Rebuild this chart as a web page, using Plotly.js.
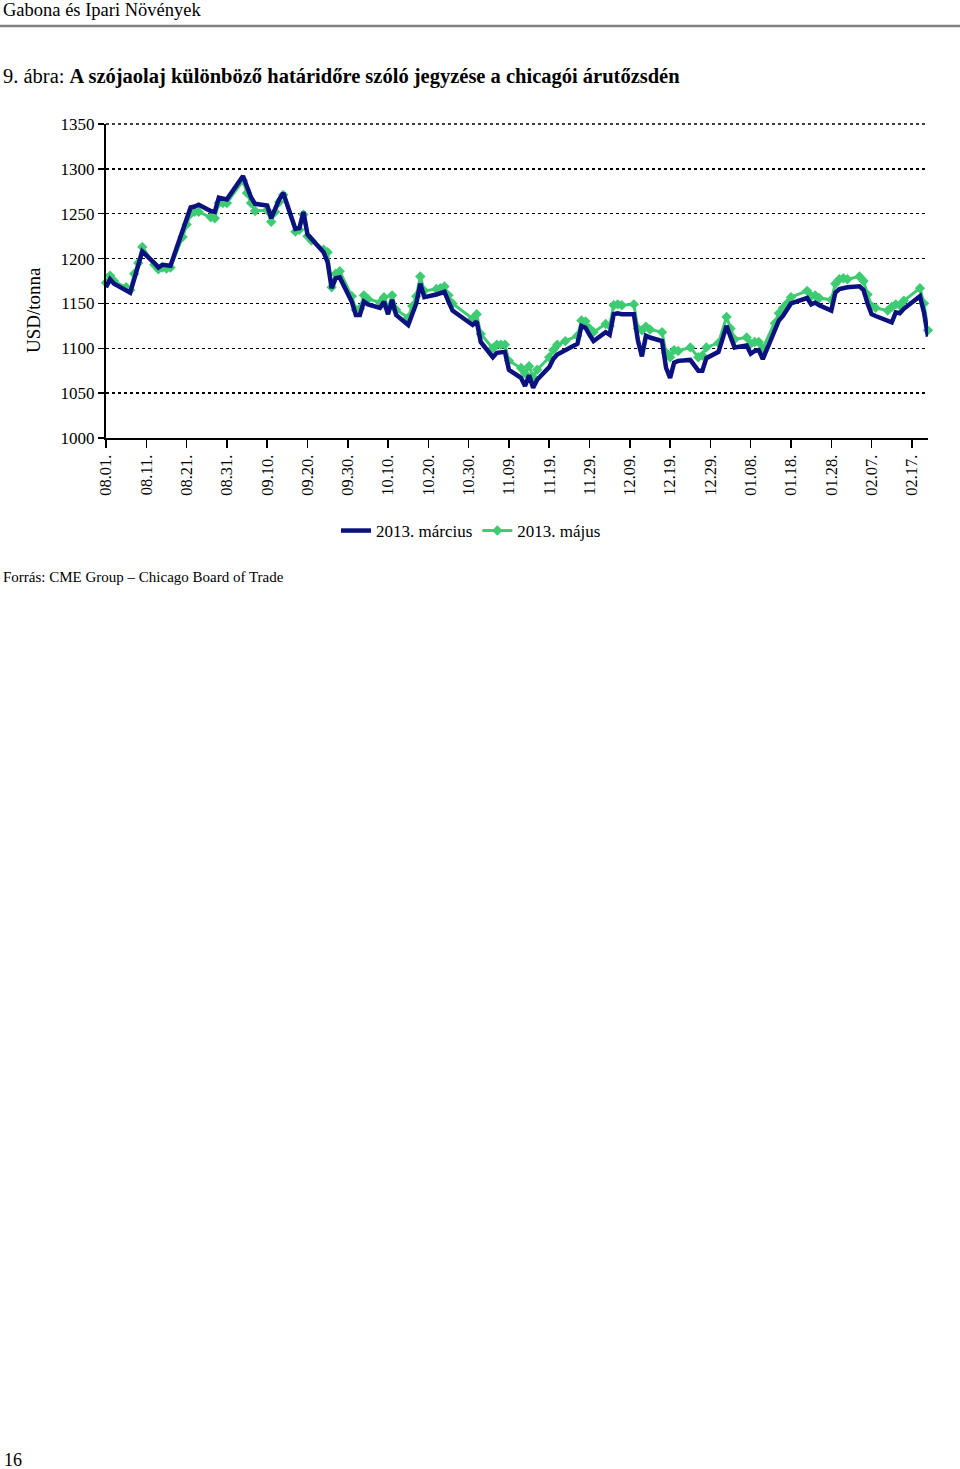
<!DOCTYPE html>
<html>
<head>
<meta charset="utf-8">
<script src="https://cdn.plot.ly/plotly-3.0.1.min.js"></script>
<style>html,body{margin:0;padding:0;background:#fff;}#chart{width:960px;height:1469px;}</style>
</head>
<body>
<div id="chart"></div>
<script>
const dates = [
"2012-08-01","2012-08-02","2012-08-03","2012-08-06","2012-08-07","2012-08-08","2012-08-09","2012-08-10",
"2012-08-13","2012-08-14","2012-08-15","2012-08-16","2012-08-17","2012-08-20","2012-08-21","2012-08-22",
"2012-08-23","2012-08-24","2012-08-27","2012-08-28","2012-08-29","2012-08-30","2012-08-31",
"2012-09-04","2012-09-05","2012-09-06","2012-09-07","2012-09-10","2012-09-11","2012-09-12","2012-09-13",
"2012-09-14","2012-09-17","2012-09-18","2012-09-19","2012-09-20","2012-09-21","2012-09-24","2012-09-25",
"2012-09-26","2012-09-27","2012-09-28",
"2012-10-01","2012-10-02","2012-10-03","2012-10-04","2012-10-05","2012-10-08","2012-10-09","2012-10-10",
"2012-10-11","2012-10-12","2012-10-15","2012-10-16","2012-10-17","2012-10-18","2012-10-19","2012-10-22",
"2012-10-23","2012-10-24","2012-10-25","2012-10-26","2012-10-31",
"2012-11-01","2012-11-02","2012-11-05","2012-11-06","2012-11-07","2012-11-08","2012-11-09","2012-11-12",
"2012-11-13","2012-11-14","2012-11-15","2012-11-16","2012-11-19","2012-11-20","2012-11-21","2012-11-23",
"2012-11-26","2012-11-27","2012-11-28","2012-11-29","2012-11-30",
"2012-12-03","2012-12-04","2012-12-05","2012-12-06","2012-12-07","2012-12-10","2012-12-11","2012-12-12",
"2012-12-13","2012-12-14","2012-12-17","2012-12-18","2012-12-19","2012-12-20","2012-12-21","2012-12-24",
"2012-12-26","2012-12-27","2012-12-28","2012-12-31",
"2013-01-02","2013-01-03","2013-01-04","2013-01-07","2013-01-08","2013-01-09","2013-01-10","2013-01-11",
"2013-01-14","2013-01-15","2013-01-16","2013-01-17","2013-01-18","2013-01-22","2013-01-23","2013-01-24",
"2013-01-25","2013-01-28","2013-01-29","2013-01-30","2013-01-31",
"2013-02-01","2013-02-04","2013-02-05","2013-02-06","2013-02-07","2013-02-08","2013-02-11","2013-02-12",
"2013-02-13","2013-02-14","2013-02-15","2013-02-19","2013-02-20","2013-02-21"
];

const marchValues = [
1168,1177,1172,1165,1162,1177,1192,1208,
1195,1190,1193,1192,1192,1231,1244,1257,
1258,1260,1253,1252,1268,1267,1266,
1292,1280,1268,1261,1259,1245,1256,1266,
1273,1233,1234,1252,1227,1222,1207,1196,
1167,1178,1179,
1152,1137,1137,1152,1149,1145,1152,1138,
1154,1137,1126,1140,1150,1172,1157,1160,
1161,1163,1152,1142,1126,
1130,1107,1090,1095,1096,1096,1076,1067,
1058,1070,1056,1065,1079,1088,1093,1098,
1105,1125,1123,1115,1108,
1118,1115,1138,1139,1138,1138,1109,1091,
1114,1112,1108,1078,1067,1084,1086,1087,
1075,1075,1089,1096,
1125,1113,1101,1103,1094,1097,1098,1088,
1122,1131,1136,1143,1150,1156,1149,1151,
1148,1142,1162,1166,1167,
1168,1169,1165,1150,1138,1136,1131,1129,
1140,1139,1144,1158,1140,1113
];

const mayValues = [
1173,1181,1175,1168,1165,1183,1195,1213,
1193,1188,1190,1189,1190,1224,1238,1250,
1252,1252,1246,1245,1262,1262,1262,
1287,1273,1262,1253,1254,1241,1252,1263,
1271,1230,1232,1249,1225,1220,1210,1207,
1168,1183,1186,
1158,1143,1144,1159,1155,1151,1157,1145,
1159,1143,1134,1147,1158,1180,1164,1166,
1167,1169,1159,1150,1133,
1138,1116,1100,1104,1104,1104,1086,1078,
1072,1080,1068,1076,1090,1098,1104,1108,
1114,1131,1130,1122,1118,
1127,1125,1148,1149,1148,1149,1122,1120,
1124,1121,1118,1095,1090,1098,1097,1101,
1090,1092,1101,1106,
1135,1122,1110,1112,1105,1107,1107,1100,
1128,1139,1145,1150,1157,1164,1158,1159,
1156,1154,1172,1177,1178,
1177,1180,1175,1160,1147,1145,1142,1146,
1149,1148,1153,1167,1150,1120
];

const seriesNames = ["2013. március", "2013. május"];
const yTicks = [1000,1050,1100,1150,1200,1250,1300,1350];

const FONT = "Liberation Serif, Times New Roman, serif";
const L = 106, R = 928, T = 124, B = 438;
const W = R - L, H = B - T;
const px = x => (x - L) / W;
const py = y => (B - y) / H;

const traces = [
  {
    x: dates, y: mayValues, name: seriesNames[1], type: "scatter", mode: "lines+markers",
    line: {color: "#3dcc72", width: 3},
    marker: {symbol: "diamond", size: 8, color: "#3dcc72"},
    cliponaxis: false, legendrank: 2
  },
  {
    x: dates, y: marchValues, name: seriesNames[0], type: "scatter", mode: "lines",
    line: {color: "#0b1280", width: 4.5},
    cliponaxis: false, legendrank: 1
  }
];

const layout = {
  width: 960, height: 1469,
  margin: {l: L, r: 960 - R, t: T, b: 1469 - B, pad: 0},
  paper_bgcolor: "#fff", plot_bgcolor: "#fff",
  font: {family: FONT, color: "#000", size: 16},
  showlegend: true,
  legend: {
    orientation: "h", x: px(471), xanchor: "center", y: py(531), yanchor: "middle",
    font: {family: FONT, size: 17, color: "#000"}, itemwidth: 30, tracegroupgap: 0
  },
  xaxis: {
    type: "date",
    range: ["2012-08-01", "2013-02-21"],
    tick0: "2012-08-01", dtick: 864000000,
    tickformat: "%m.%d.", tickangle: -90,
    ticks: "outside", ticklen: 8, tickwidth: 1.5, tickcolor: "#000",
    showline: true, linecolor: "#000", linewidth: 2,
    showgrid: false, zeroline: false,
    tickfont: {family: FONT, size: 16.5, color: "#000"}
  },
  yaxis: {
    range: [1000, 1350],
    tickvals: yTicks,
    ticks: "outside", ticklen: 6, tickwidth: 1.5, tickcolor: "#000",
    showline: true, linecolor: "#000", linewidth: 2,
    showgrid: true, gridcolor: "#000", gridwidth: 1.5, griddash: "dot",
    zeroline: false,
    tickfont: {family: FONT, size: 17, color: "#000"}
  },
  shapes: [
    {type: "line", xref: "paper", yref: "paper", x0: px(0), x1: px(960), y0: py(26), y1: py(26),
     line: {color: "#808080", width: 2.5}},
    {type: "line", xref: "paper", yref: "paper", x0: 0, x1: 1, y0: 1, y1: 1,
     line: {color: "#000", width: 1.5, dash: "dot"}}
  ],
  annotations: [
    {xref: "paper", yref: "paper", x: px(1), y: py(10), xanchor: "left", yanchor: "middle",
     text: "Gabona és Ipari Növények", showarrow: false, font: {family: FONT, size: 18.5, color: "#000"}},
    {xref: "paper", yref: "paper", x: px(1), y: py(77), xanchor: "left", yanchor: "middle",
     text: "9. ábra: <b>A szójaolaj különböző határidőre szóló jegyzése a chicagói árutőzsdén</b>",
     showarrow: false, font: {family: FONT, size: 20.5, color: "#000"}},
    {xref: "paper", yref: "paper", x: px(33), y: py(310), xanchor: "center", yanchor: "middle",
     text: "USD/tonna", textangle: -90, showarrow: false, font: {family: FONT, size: 19, color: "#000"}},
    {xref: "paper", yref: "paper", x: px(1), y: py(577), xanchor: "left", yanchor: "middle",
     text: "Forrás: CME Group – Chicago Board of Trade", showarrow: false,
     font: {family: FONT, size: 15, color: "#000"}},
    {xref: "paper", yref: "paper", x: px(2), y: py(1460), xanchor: "left", yanchor: "middle",
     text: "16", showarrow: false, font: {family: FONT, size: 18, color: "#000"}}
  ]
};

Plotly.newPlot("chart", traces, layout, {staticPlot: true, displayModeBar: false});
</script>
</body>
</html>
